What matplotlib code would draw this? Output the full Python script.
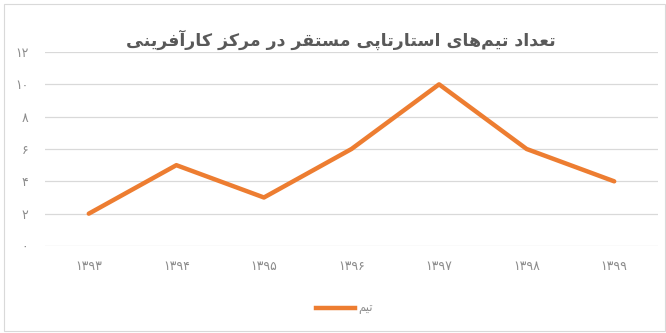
import matplotlib
matplotlib.use("Agg")
import matplotlib.pyplot as plt
from matplotlib.patches import Rectangle

# ---- data -------------------------------------------------------------
years = [1393, 1394, 1395, 1396, 1397, 1398, 1399]
teams = [2, 5, 3, 6, 10, 6, 4]
y_ticks = [0, 2, 4, 6, 8, 10, 12]
title_text = "تعداد تیم\u200cهای استارتاپی مستقر در مرکز کارآفرینی"
series_label = "تیم"

# ---- minimal Persian shaping (presentation forms + visual order) -------
FORMS = {
    'ا': ('\uFE8D', '\uFE8E', None, None),
    'آ': ('\uFE81', '\uFE82', None, None),
    'د': ('\uFEA9', '\uFEAA', None, None),
    'ر': ('\uFEAD', '\uFEAE', None, None),
    'ز': ('\uFEAF', '\uFEB0', None, None),
    'ت': ('\uFE95', '\uFE96', '\uFE97', '\uFE98'),
    'ع': ('\uFEC9', '\uFECA', '\uFECB', '\uFECC'),
    'ی': ('\uFBFC', '\uFBFD', '\uFBFE', '\uFBFF'),
    'م': ('\uFEE1', '\uFEE2', '\uFEE3', '\uFEE4'),
    'ه': ('\uFEE9', '\uFEEA', '\uFEEB', '\uFEEC'),
    'س': ('\uFEB1', '\uFEB2', '\uFEB3', '\uFEB4'),
    'پ': ('\uFB56', '\uFB57', '\uFB58', '\uFB59'),
    'ق': ('\uFED5', '\uFED6', '\uFED7', '\uFED8'),
    'ک': ('\uFB8E', '\uFB8F', '\uFB90', '\uFB91'),
    'ف': ('\uFED1', '\uFED2', '\uFED3', '\uFED4'),
    'ن': ('\uFEE5', '\uFEE6', '\uFEE7', '\uFEE8'),
}


def shape(text):
    out = []
    for i, c in enumerate(text):
        if c not in FORMS:
            out.append(c)
            continue
        iso, fin, ini, med = FORMS[c]
        prev = text[i - 1] if i > 0 else ''
        nxt = text[i + 1] if i + 1 < len(text) else ''
        jp = prev in FORMS and FORMS[prev][2] is not None
        jn = ini is not None and nxt in FORMS
        if jp and jn:
            out.append(med)
        elif jp:
            out.append(fin)
        elif jn:
            out.append(ini)
        else:
            out.append(iso)
    return ''.join(reversed(out)).replace('\u200c', '')


FA_DIGITS = str.maketrans('0123456789', '۰۱۲۳۴۵۶۷۸۹')


def fa(n):
    return str(n).translate(FA_DIGITS)


# ---- figure -----------------------------------------------------------
plt.rcParams['font.family'] = ['DejaVu Sans']
fig = plt.figure(figsize=(6.66, 3.33), dpi=100)
fig.patch.set_facecolor('white')

# thin chart-area frame
fig.patches.append(Rectangle((4 / 666, 2 / 333), 661 / 666, 327 / 333,
                             transform=fig.transFigure, fill=False,
                             edgecolor='#d9d9d9', linewidth=0.8))

ax = fig.add_axes([45 / 666, 1 - 246 / 333, 613 / 666, 194 / 333])
x = list(range(len(years)))
ax.plot(x, teams, color='#ED7D31', linewidth=3.2,
        solid_joinstyle='round', solid_capstyle='round', zorder=3)

ax.set_xlim(-0.5, len(years) - 0.5)
ax.set_ylim(0, 12)
ax.set_yticks(y_ticks)
ax.set_yticklabels([fa(v) for v in y_ticks])
ax.set_xticks(x)
ax.set_xticklabels([fa(y) for y in years])
ax.tick_params(axis='both', length=0, colors='#8c8c8c', labelsize=9)
ax.tick_params(axis='y', pad=12)
ax.tick_params(axis='x', pad=10)
ax.yaxis.grid(True, color='#d9d9d9', linewidth=0.9)
ax.set_axisbelow(True)
for s in ax.spines.values():
    s.set_visible(False)

fig.text(341 / 666, 1 - 40 / 333, shape(title_text), ha='center', va='center',
         fontsize=12.5, fontweight='bold', color='#595959')

# legend
fig.lines.append(plt.Line2D([316 / 666, 355 / 666], [1 - 308 / 333] * 2,
                            transform=fig.transFigure, color='#ED7D31',
                            linewidth=3.2))
fig.text(358 / 666, 1 - 308 / 333, shape(series_label), ha='left',
         va='center', fontsize=8.5, color='#8c8c8c')

fig.savefig('out.png', dpi=100)
